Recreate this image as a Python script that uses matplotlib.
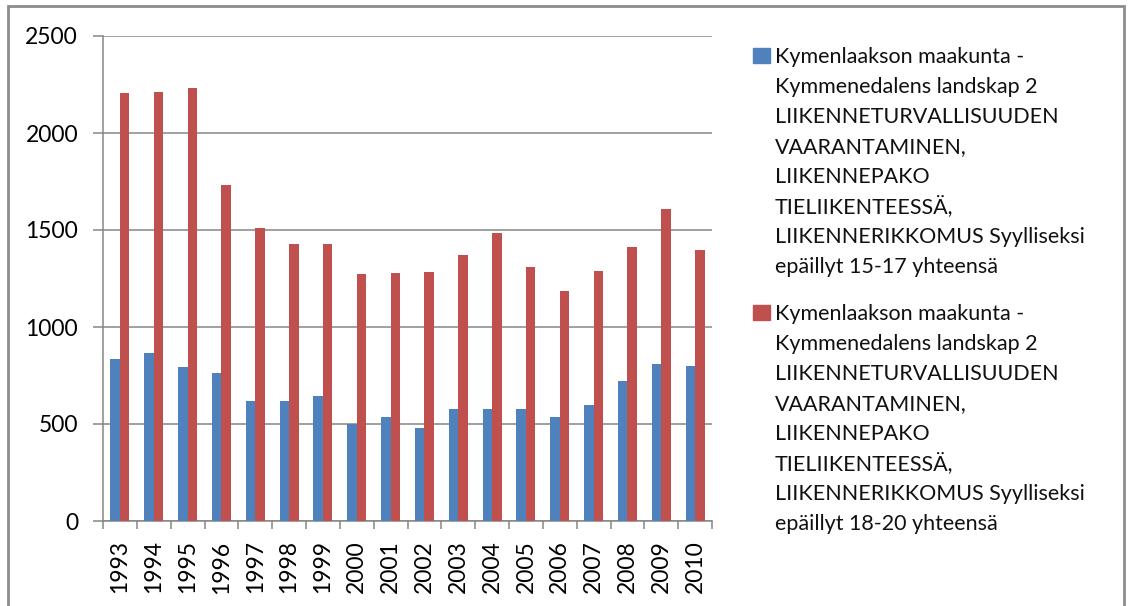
import matplotlib.pyplot as plt
from matplotlib.patches import Rectangle
import numpy as np

years = ['1993', '1994', '1995', '1996', '1997', '1998', '1999', '2000', '2001',
         '2002', '2003', '2004', '2005', '2006', '2007', '2008', '2009', '2010']
ages_15_17 = [834, 867, 793, 762, 616, 616, 642, 501, 536,
              477, 577, 577, 577, 536, 596, 721, 809, 800]
ages_18_20 = [2205, 2212, 2230, 1734, 1509, 1429, 1429, 1271, 1277,
              1283, 1370, 1484, 1310, 1185, 1291, 1410, 1607, 1398]

label_15_17 = ["Kymenlaakson maakunta -", "Kymmenedalens landskap 2",
               "LIIKENNETURVALLISUUDEN", "VAARANTAMINEN,", "LIIKENNEPAKO",
               "TIELIIKENTEESSÄ,", "LIIKENNERIKKOMUS Syylliseksi",
               "epäillyt 15-17 yhteensä"]
label_18_20 = label_15_17[:-1] + ["epäillyt 18-20 yhteensä"]

blue = '#4F81BD'
red = '#C0504D'
grid_col = '#868686'

plt.rcParams['font.family'] = ['Lato', 'DejaVu Sans']

fig = plt.figure(figsize=(11.28, 6.06), dpi=100)
W, H = 1128, 606
ax = fig.add_axes([103 / W, 1 - 521 / H, (712 - 103) / W, (521 - 36) / H])

x = np.arange(len(years))
w = 0.28
ax.bar(x - w / 2, ages_15_17, w, color=blue, zorder=3)
ax.bar(x + w / 2, ages_18_20, w, color=red, zorder=3)

ax.set_xlim(-0.5, len(years) - 0.5)
ax.set_ylim(0, 2500)
ax.set_yticks(range(0, 2501, 500))
ax.yaxis.grid(True, color=grid_col, linewidth=1.1, zorder=0)

ax.set_xticks(x)
ax.set_xticklabels(years, rotation=90, fontsize=16.5)
ax.tick_params(axis='x', length=0, pad=14)
ax.set_xticks(np.arange(-0.5, len(years), 1), minor=True)
ax.tick_params(axis='x', which='minor', length=6, color=grid_col, width=1.1)
ax.tick_params(axis='y', length=7, color=grid_col, width=1.1, pad=11, labelsize=16.5)

for s in ['top', 'right']:
    ax.spines[s].set_visible(False)
for s in ['left', 'bottom']:
    ax.spines[s].set_color(grid_col)
    ax.spines[s].set_linewidth(1.1)

# legend drawn by hand, Excel style
def legend_entry(y_base, color, lines):
    fig.patches.append(Rectangle((753 / W, 1 - (y_base) / H), 17 / W, 15 / H,
                                 transform=fig.transFigure, color=color))
    for i, line in enumerate(lines):
        fig.text(775 / W, 1 - (y_base + 30 * i) / H, line, fontsize=15.5,
                 va='baseline', ha='left', color='#111111')

legend_entry(63, blue, label_15_17)
legend_entry(320, red, label_18_20)

# outer chart border
fig.patches.append(Rectangle((8 / W, -0.05), (1124 - 8) / W, 1.05 - 6 / H,
                             transform=fig.transFigure, fill=False,
                             edgecolor='#8c8c8c', linewidth=2))

fig.savefig('out.png', dpi=100)
